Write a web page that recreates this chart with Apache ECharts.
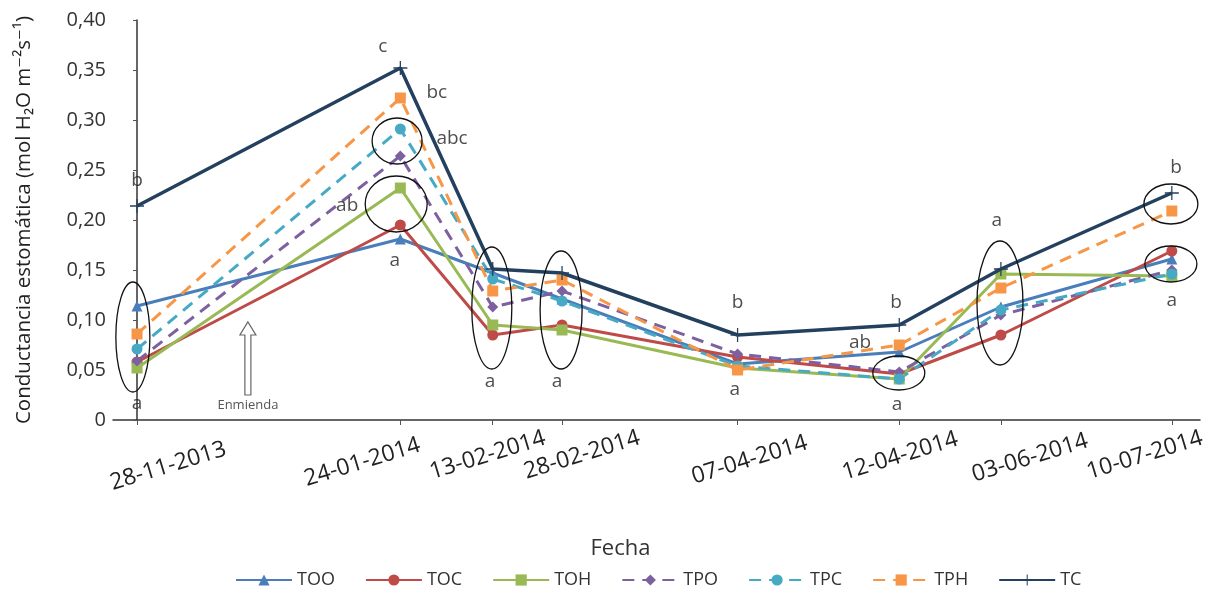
<!DOCTYPE html>
<html>
<head>
<meta charset="utf-8">
<script src="https://cdn.jsdelivr.net/npm/echarts@6/dist/echarts.min.js"></script>
<style>
  html, body { margin: 0; padding: 0; background: #fff; }
  #chart { width: 1212px; height: 590px; }
</style>
</head>
<body>
<div id="chart"></div>
<script>
// Sampling dates (labels) and their position in days since the first sampling
const fechas = ['28-11-2013', '24-01-2014', '13-02-2014', '28-02-2014',
                '07-04-2014', '12-04-2014', '03-06-2014', '10-07-2014'];
const diasMuestreo = [0, 57, 77, 92, 130, 165, 187, 224];

// Stomatal conductance (mol H2O m-2 s-1) per treatment
const TOO = [0.114, 0.181, 0.147, 0.121, 0.056, 0.068, 0.113, 0.161];
const TOC = [0.058, 0.195, 0.085, 0.095, 0.063, 0.046, 0.085, 0.169];
const TOH = [0.052, 0.232, 0.095, 0.090, 0.052, 0.041, 0.146, 0.144];
const TPO = [0.059, 0.264, 0.113, 0.129, 0.066, 0.048, 0.105, 0.150];
const TPC = [0.071, 0.291, 0.141, 0.119, 0.054, 0.041, 0.110, 0.146];
const TPH = [0.086, 0.322, 0.129, 0.140, 0.050, 0.075, 0.132, 0.209];
const TC  = [0.214, 0.352, 0.151, 0.147, 0.085, 0.095, 0.151, 0.227];

// Significance letters: [day, value, letter]
const letras = [
  [0, 0.239, 'b'], [0, 0.016, 'a'],
  [53.2, 0.373, 'c'], [64.9, 0.327, 'bc'], [68.2, 0.281, 'abc'],
  [45.5, 0.214, 'ab'], [55.8, 0.159, 'a'],
  [76.4, 0.038, 'a'], [90.9, 0.038, 'a'],
  [130, 0.117, 'b'], [129.4, 0.030, 'a'],
  [164.3, 0.117, 'b'], [156.5, 0.077, 'ab'], [164.5, 0.015, 'a'],
  [186.1, 0.199, 'a'],
  [224.9, 0.252, 'b'], [224, 0.119, 'a']
];

// Groups circled together: centre [day, value]
const grupos = [
  [-0.9, 0.083], [56.3, 0.279], [56.1, 0.216], [76.8, 0.112], [91.8, 0.110],
  [164.9, 0.047], [186.8, 0.117], [223.8, 0.216], [223.8, 0.156]
];
// Ellipse radii in px for each group
const gruposRadio = [
  [17, 55], [25, 23], [31, 28], [20, 61], [21, 59],
  [26, 17], [23, 62], [27, 20], [26, 18]
];

// Amendment marker: [day, value at arrow base]
const enmienda = [[24, 0.025]];

// Horizontal / vertical nudge (px) of each date label from its tick
const nudgeFechaX = [31, -38, -5, 20, 12, 1, 29, -27];
const nudgeFechaY = [6, 2, -5, -5, 0, -4, -2, -5];

const font = '"Open Sans", "DejaVu Sans", sans-serif';
const plusPath = 'path://M-0.09,-1H0.09V-0.09H1V0.09H0.09V1H-0.09V0.09H-1V-0.09H-0.09Z';
const giro = 17;

function pares(vals) { return vals.map((v, i) => [diasMuestreo[i], v]); }

function linea(name, vals, color, symbol, dashed, extra) {
  return Object.assign({
    name: name,
    type: 'line',
    data: pares(vals),
    symbol: symbol,
    symbolSize: 11,
    color: color,
    itemStyle: { color: color },
    lineStyle: { color: color, width: 3, type: dashed ? [12, 8] : 'solid' },
    z: 3
  }, extra || {});
}

// One rich style per date label: padding in the rotated text frame that
// moves the centred text by the wanted screen offset
const richFechas = {};
const rad = giro * Math.PI / 180;
nudgeFechaX.forEach((dx, i) => {
  const dy = nudgeFechaY[i];
  const a = dx * Math.cos(rad) - dy * Math.sin(rad);   // along baseline
  const b = dx * Math.sin(rad) + dy * Math.cos(rad);   // across baseline (down)
  const pa = Math.round(Math.abs(a) * 2), pb = Math.round(Math.abs(b) * 2);
  richFechas['f' + i] = {
    fontFamily: font,
    fontSize: 23,
    color: '#222',
    padding: [b > 0 ? pb : 0, a < 0 ? pa : 0, b < 0 ? pb : 0, a > 0 ? pa : 0]
  };
});

const chart = echarts.init(document.getElementById('chart'));

chart.setOption({
  backgroundColor: '#ffffff',
  animation: false,
  grid: { left: 113, right: 12, top: 20, bottom: 170, containLabel: false, outerBoundsMode: 'none' },
  legend: {
    data: ['TOO', 'TOC', 'TOH', 'TPO', 'TPC', 'TPH', 'TC'],
    top: 566,
    left: 230,
    itemWidth: 56,
    itemHeight: 14,
    itemGap: 30,
    textStyle: { fontFamily: font, fontSize: 18, color: '#333' }
  },
  xAxis: {
    type: 'value',
    min: -5.2,
    max: 230.1,
    name: 'Fecha',
    nameLocation: 'middle',
    nameGap: 118,
    nameTextStyle: { fontFamily: font, fontSize: 22, color: '#333', padding: [0, 72, 0, 0] },
    axisLine: { show: true, lineStyle: { color: '#333', width: 1.5 } },
    axisTick: { show: true, customValues: diasMuestreo, length: 5, lineStyle: { color: '#555' } },
    splitLine: { show: false },
    axisLabel: {
      customValues: diasMuestreo,
      formatter: function (v) {
        const i = diasMuestreo.indexOf(v);
        return i >= 0 ? '{f' + i + '|' + fechas[i] + '}' : '';
      },
      rich: richFechas,
      rotate: giro,
      align: 'center',
      verticalAlign: 'middle',
      margin: 40,
      fontFamily: font,
      fontSize: 23,
      color: '#222'
    }
  },
  yAxis: {
    type: 'value',
    min: 0,
    max: 0.4,
    interval: 0.05,
    name: 'Conductancia estomática (mol H₂O m⁻²s⁻¹)',
    nameLocation: 'middle',
    nameGap: 78,
    nameTextStyle: { fontFamily: font, fontSize: 20.5, color: '#222' },
    axisLine: { show: true, lineStyle: { color: '#333', width: 1.5 } },
    axisTick: { show: true, length: 4, lineStyle: { color: '#555' } },
    splitLine: { show: false },
    axisLabel: {
      margin: 7,
      fontFamily: font,
      fontSize: 20,
      color: '#333',
      formatter: function (v) {
        if (v === 0) return '0';
        return v.toFixed(2).replace('.', ',');
      }
    }
  },
  series: [
    linea('TOO', TOO, '#4a7ebb', 'triangle', false),
    linea('TOC', TOC, '#be4b48', 'circle', false),
    linea('TOH', TOH, '#98b954', 'rect', false),
    linea('TPO', TPO, '#7d60a0', 'diamond', true),
    linea('TPC', TPC, '#46aac5', 'circle', true),
    linea('TPH', TPH, '#f79646', 'rect', true),
    linea('TC', TC, '#24405f', plusPath, false, { symbolSize: 14, lineStyle: { color: '#24405f', width: 3.5 }, z: 4 }),
    {
      name: 'letras',
      type: 'scatter',
      data: letras,
      symbolSize: 0,
      silent: true,
      z: 6,
      label: {
        show: true,
        position: 'inside',
        formatter: p => p.value[2],
        fontFamily: font,
        fontSize: 19,
        color: '#222'
      }
    },
    {
      name: 'grupos',
      type: 'custom',
      silent: true,
      z: 5,
      data: grupos.map((g, i) => [g[0], g[1], gruposRadio[i][0], gruposRadio[i][1]]),
      encode: { x: 0, y: 1 },
      renderItem: function (params, api) {
        const c = api.coord([api.value(0), api.value(1)]);
        return {
          type: 'ellipse',
          shape: { cx: c[0], cy: c[1], rx: api.value(2), ry: api.value(3) },
          style: { fill: 'none', stroke: '#111', lineWidth: 1.3 }
        };
      }
    },
    {
      name: 'enmienda',
      type: 'custom',
      silent: true,
      z: 5,
      data: enmienda,
      encode: { x: 0, y: 1 },
      renderItem: function (params, api) {
        const b = api.coord([api.value(0), api.value(1)]);
        const x = b[0], y = b[1];
        return {
          type: 'group',
          children: [
            {
              type: 'polygon',
              shape: {
                points: [
                  [x - 3, y], [x + 3, y], [x + 3, y - 60], [x + 8, y - 60],
                  [x, y - 73], [x - 8, y - 60], [x - 3, y - 60]
                ]
              },
              style: { fill: '#fff', stroke: '#666', lineWidth: 1.2 }
            },
            {
              type: 'text',
              style: {
                x: x, y: y + 10, text: 'Enmienda',
                align: 'center', verticalAlign: 'middle',
                font: '13px "Open Sans", sans-serif', fill: '#555'
              }
            }
          ]
        };
      }
    }
  ]
});
</script>
</body>
</html>
